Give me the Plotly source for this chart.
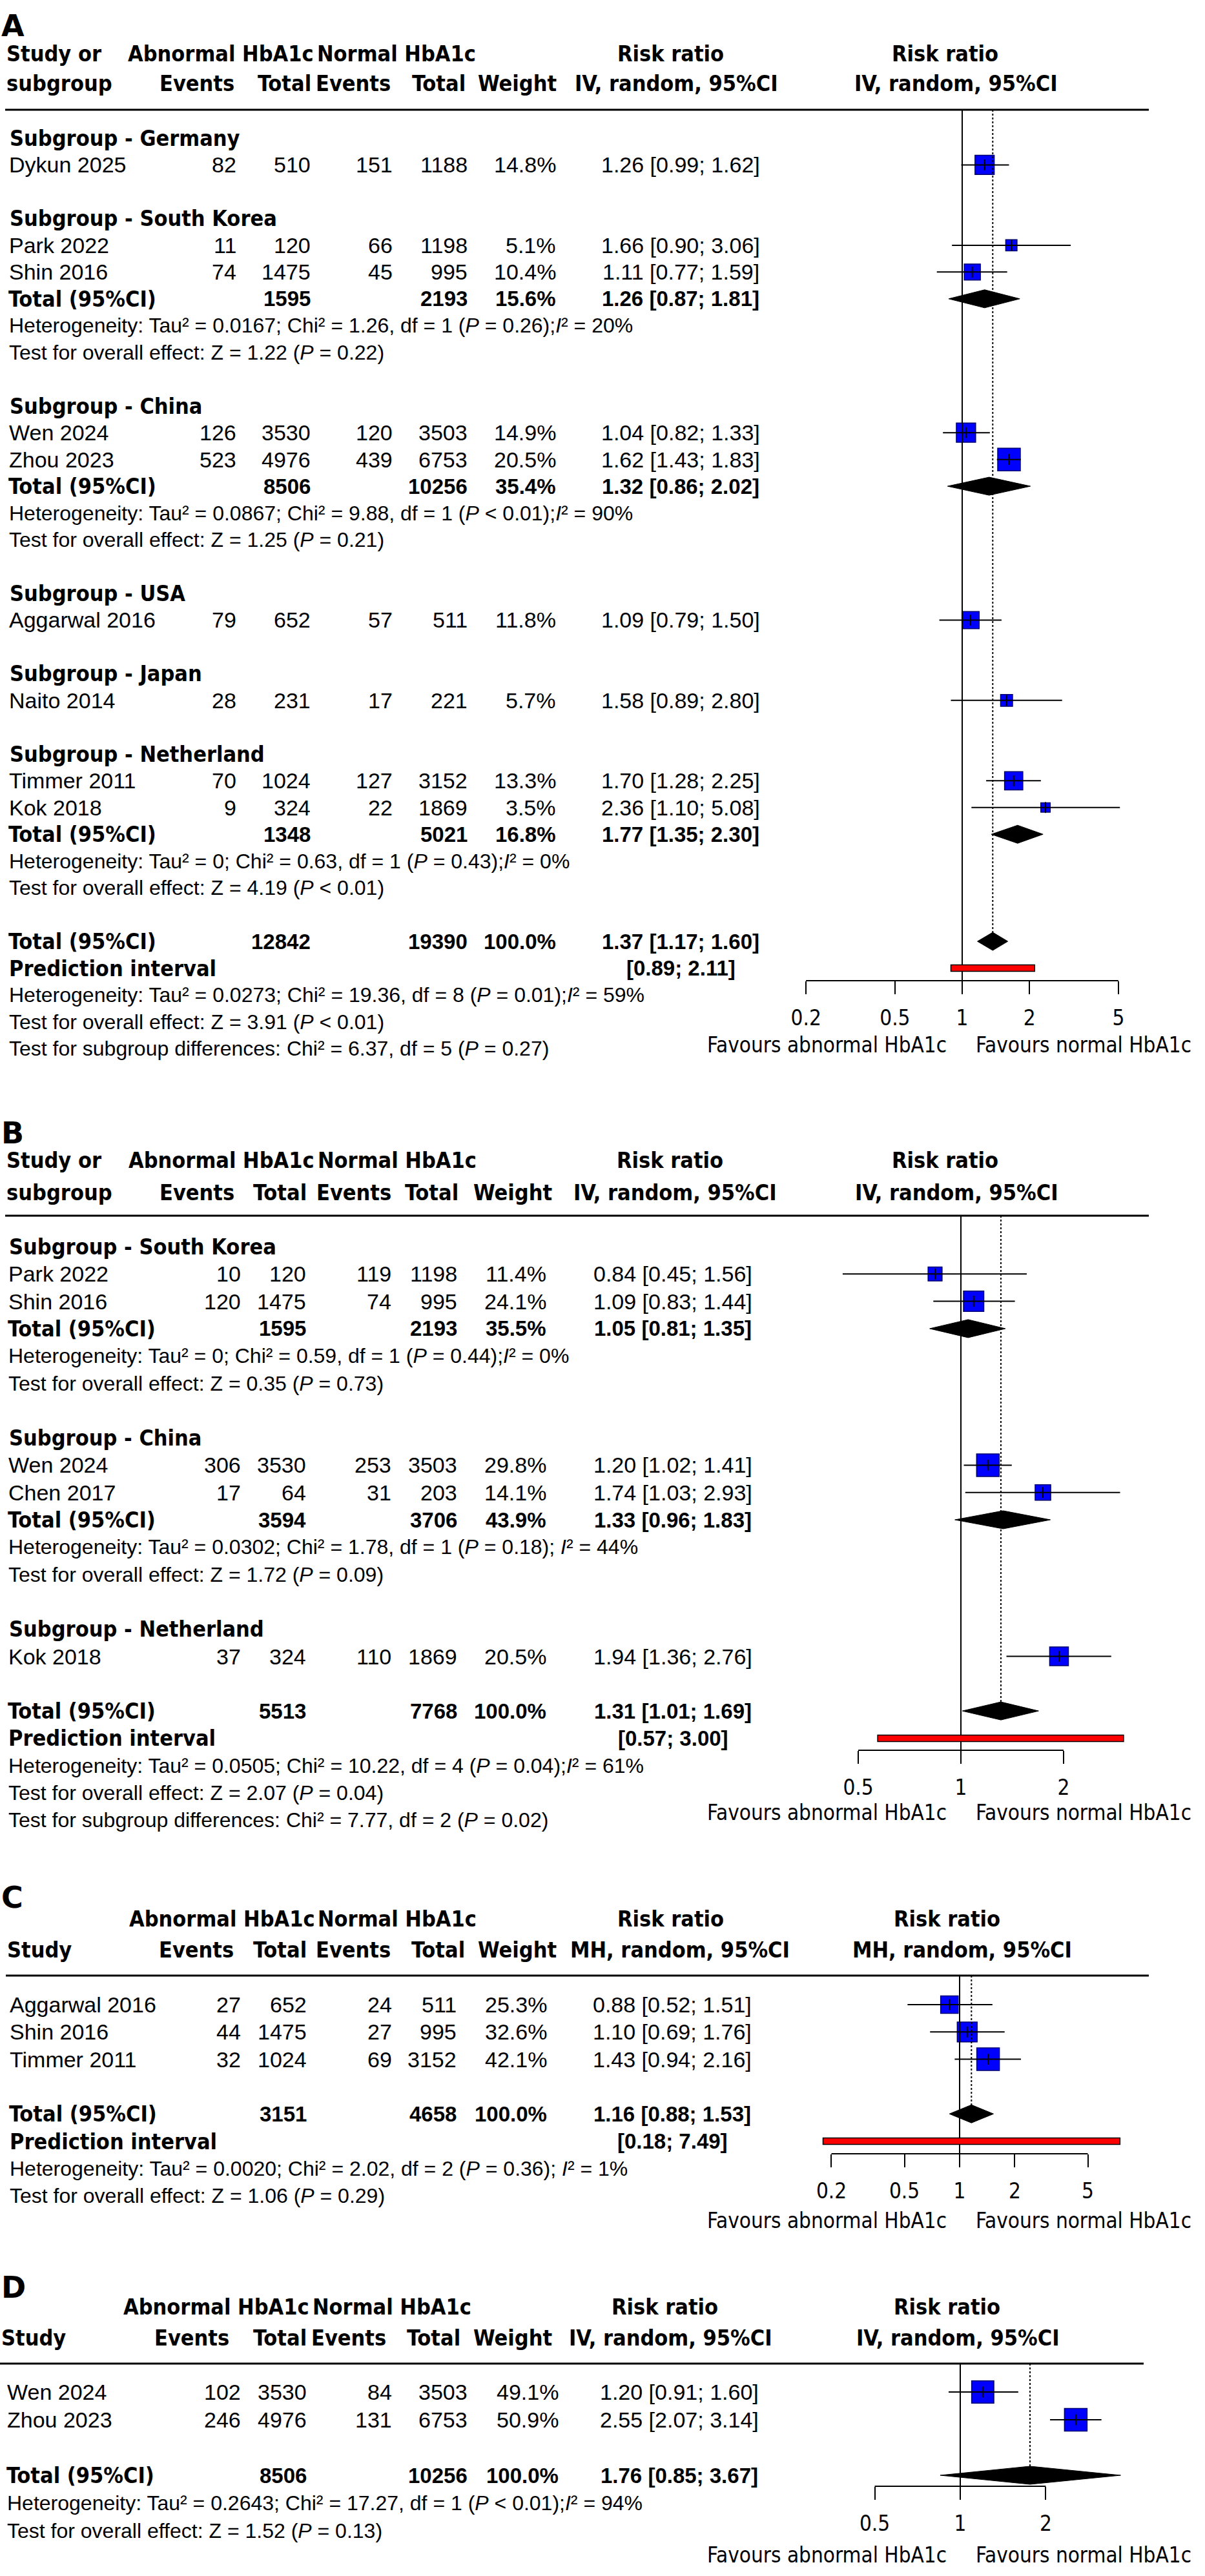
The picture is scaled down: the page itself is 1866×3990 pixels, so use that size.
import math
import plotly.graph_objects as go

W, H = 1866, 3990

# ======================= DATA =======================
# ---- Panel A ----
A_groups = ["Germany", "South Korea", "China", "USA", "Japan", "Netherland"]
A_study = ["Dykun 2025", "Park 2022", "Shin 2016", "Wen 2024", "Zhou 2023",
           "Aggarwal 2016", "Naito 2014", "Timmer 2011", "Kok 2018"]
A_group = ["Germany", "South Korea", "South Korea", "China", "China",
           "USA", "Japan", "Netherland", "Netherland"]
A_ev_abn = [82, 11, 74, 126, 523, 79, 28, 70, 9]
A_tot_abn = [510, 120, 1475, 3530, 4976, 652, 231, 1024, 324]
A_ev_nor = [151, 66, 45, 120, 439, 57, 17, 127, 22]
A_tot_nor = [1188, 1198, 995, 3503, 6753, 511, 221, 3152, 1869]
A_weight = [14.8, 5.1, 10.4, 14.9, 20.5, 11.8, 5.7, 13.3, 3.5]
A_rr = [1.26, 1.66, 1.11, 1.04, 1.62, 1.09, 1.58, 1.70, 2.36]
A_lo = [0.99, 0.90, 0.77, 0.82, 1.43, 0.79, 0.89, 1.28, 1.10]
A_hi = [1.62, 3.06, 1.59, 1.33, 1.83, 1.50, 2.80, 2.25, 5.08]
A_sub_names = ["South Korea", "China", "Netherland"]
A_sub_tot_abn = [1595, 8506, 1348]
A_sub_tot_nor = [2193, 10256, 5021]
A_sub_weight = [15.6, 35.4, 16.8]
A_sub_rr = [1.26, 1.32, 1.77]
A_sub_lo = [0.87, 0.86, 1.35]
A_sub_hi = [1.81, 2.02, 2.30]
A_sub_tau = ["0.0167", "0.0867", "0"]
A_sub_chi = ["1.26", "9.88", "0.63"]
A_sub_df = [1, 1, 1]
A_sub_phet = ["= 0.26", "< 0.01", "= 0.43"]
A_sub_i2 = [20, 90, 0]
A_sub_z = ["1.22", "1.25", "4.19"]
A_sub_pz = ["= 0.22", "= 0.21", "< 0.01"]
A_total = [12842, 19390, 100.0]
A_pooled = [1.37, 1.17, 1.60]
A_pi = [0.89, 2.11]
A_het = ["0.0273", "19.36", 8, "= 0.01", 59]
A_test = ["3.91", "< 0.01"]
A_diff = ["6.37", 5, "= 0.27"]
A_ticks = [0.2, 0.5, 1, 2, 5]

# ---- Panel B ----
B_groups = ["South Korea", "China", "Netherland"]
B_study = ["Park 2022", "Shin 2016", "Wen 2024", "Chen 2017", "Kok 2018"]
B_group = ["South Korea", "South Korea", "China", "China", "Netherland"]
B_ev_abn = [10, 120, 306, 17, 37]
B_tot_abn = [120, 1475, 3530, 64, 324]
B_ev_nor = [119, 74, 253, 31, 110]
B_tot_nor = [1198, 995, 3503, 203, 1869]
B_weight = [11.4, 24.1, 29.8, 14.1, 20.5]
B_rr = [0.84, 1.09, 1.20, 1.74, 1.94]
B_lo = [0.45, 0.83, 1.02, 1.03, 1.36]
B_hi = [1.56, 1.44, 1.41, 2.93, 2.76]
B_sub_names = ["South Korea", "China"]
B_sub_tot_abn = [1595, 3594]
B_sub_tot_nor = [2193, 3706]
B_sub_weight = [35.5, 43.9]
B_sub_rr = [1.05, 1.33]
B_sub_lo = [0.81, 0.96]
B_sub_hi = [1.35, 1.83]
B_sub_tau = ["0", "0.0302"]
B_sub_chi = ["0.59", "1.78"]
B_sub_df = [1, 1]
B_sub_phet = ["= 0.44", "= 0.18"]
B_sub_i2 = [0, 44]
B_sub_z = ["0.35", "1.72"]
B_sub_pz = ["= 0.73", "= 0.09"]
B_total = [5513, 7768, 100.0]
B_pooled = [1.31, 1.01, 1.69]
B_pi = [0.57, 3.00]
B_het = ["0.0505", "10.22", 4, "= 0.04", 61]
B_test = ["2.07", "= 0.04"]
B_diff = ["7.77", 2, "= 0.02"]
B_ticks = [0.5, 1, 2]

# ---- Panel C ----
C_study = ["Aggarwal 2016", "Shin 2016", "Timmer 2011"]
C_ev_abn = [27, 44, 32]
C_tot_abn = [652, 1475, 1024]
C_ev_nor = [24, 27, 69]
C_tot_nor = [511, 995, 3152]
C_weight = [25.3, 32.6, 42.1]
C_rr = [0.88, 1.10, 1.43]
C_lo = [0.52, 0.69, 0.94]
C_hi = [1.51, 1.76, 2.16]
C_total = [3151, 4658, 100.0]
C_pooled = [1.16, 0.88, 1.53]
C_pi = [0.18, 7.49]
C_het = ["0.0020", "2.02", 2, "= 0.36", 1]
C_test = ["1.06", "= 0.29"]
C_ticks = [0.2, 0.5, 1, 2, 5]

# ---- Panel D ----
D_study = ["Wen 2024", "Zhou 2023"]
D_ev_abn = [102, 246]
D_tot_abn = [3530, 4976]
D_ev_nor = [84, 131]
D_tot_nor = [3503, 6753]
D_weight = [49.1, 50.9]
D_rr = [1.20, 2.55]
D_lo = [0.91, 2.07]
D_hi = [1.60, 3.14]
D_total = [8506, 10256, 100.0]
D_pooled = [1.76, 0.85, 3.67]
D_het = ["0.2643", "17.27", 1, "< 0.01", 94]
D_test = ["1.52", "= 0.13"]
D_ticks = [0.5, 1, 2]

# ======================= STYLE / LAYOUT =======================
REG = "Liberation Sans, Arial, sans-serif"
HB = "DejaVu Sans Condensed, DejaVu Sans, sans-serif"
TF = "DejaVu Sans Condensed, DejaVu Sans, sans-serif"
S_REG, S_HB, S_NUM, S_TICK, S_STAT = 34, 34, 33, 33, 32
BLUE = "rgb(0,0,255)"

panels = [
    dict(name="A", groups=A_groups, study=A_study, group=A_group, ev_abn=A_ev_abn, tot_abn=A_tot_abn,
         ev_nor=A_ev_nor, tot_nor=A_tot_nor, weight=A_weight, rr=A_rr, lo=A_lo, hi=A_hi,
         sub_names=A_sub_names, sub_tot_abn=A_sub_tot_abn, sub_tot_nor=A_sub_tot_nor,
         sub_weight=A_sub_weight, sub_rr=A_sub_rr, sub_lo=A_sub_lo, sub_hi=A_sub_hi,
         sub_tau=A_sub_tau, sub_chi=A_sub_chi, sub_df=A_sub_df, sub_phet=A_sub_phet,
         sub_i2=A_sub_i2, sub_z=A_sub_z, sub_pz=A_sub_pz, total=A_total, pooled=A_pooled,
         pi=A_pi, het=A_het, test=A_test, diff=A_diff, ticks=A_ticks, method="IV",
         sub_space=[False, False, False], het_space=False,
         L=dict(letter=40, h1=83, h2=129, rule=170, rule_x=(8, 1779), y0=214, dy=41.47,
                axis=1519, fav=1618, x1=1490, dec=346, study_hdr=("Study or", "subgroup"), sx=8,
                lab=12, ev1=368, tot1=483, ev2=610, tot2=726, wt=863, ci=1054,
                hev1=365, htot1=484, hev2=607, htot2=723, hwt=864, habn=342, hnor=614,
                hrr=1038, hmeth=1047, rrr=1463, rmeth=1480)),
    dict(name="B", groups=B_groups, study=B_study, group=B_group, ev_abn=B_ev_abn, tot_abn=B_tot_abn,
         ev_nor=B_ev_nor, tot_nor=B_tot_nor, weight=B_weight, rr=B_rr, lo=B_lo, hi=B_hi,
         sub_names=B_sub_names, sub_tot_abn=B_sub_tot_abn, sub_tot_nor=B_sub_tot_nor,
         sub_weight=B_sub_weight, sub_rr=B_sub_rr, sub_lo=B_sub_lo, sub_hi=B_sub_hi,
         sub_tau=B_sub_tau, sub_chi=B_sub_chi, sub_df=B_sub_df, sub_phet=B_sub_phet,
         sub_i2=B_sub_i2, sub_z=B_sub_z, sub_pz=B_sub_pz, total=B_total, pooled=B_pooled,
         pi=B_pi, het=B_het, test=B_test, diff=B_diff, ticks=B_ticks, method="IV",
         sub_space=[False, True], het_space=False,
         L=dict(letter=1755, h1=1797, h2=1847, rule=1883, rule_x=(8, 1779), y0=1931, dy=42.3,
                axis=2711, fav=2807, x1=1488, dec=528, study_hdr=("Study or", "subgroup"), sx=8,
                lab=11, ev1=375, tot1=476, ev2=608, tot2=710, wt=848, ci=1042,
                hev1=365, htot1=477, hev2=608, htot2=712, hwt=857, habn=343, hnor=615,
                hrr=1037, hmeth=1045, rrr=1463, rmeth=1481)),
    dict(name="C", groups=None, study=C_study, ev_abn=C_ev_abn, tot_abn=C_tot_abn,
         ev_nor=C_ev_nor, tot_nor=C_tot_nor, weight=C_weight, rr=C_rr, lo=C_lo, hi=C_hi,
         total=C_total, pooled=C_pooled, pi=C_pi, het=C_het, test=C_test, diff=None,
         ticks=C_ticks, method="MH", het_space=True,
         L=dict(letter=2939, h1=2972, h2=3020, rule=3060, rule_x=(9, 1779), y0=3105, dy=42.3,
                axis=3336, fav=3439, x1=1486, dec=284, study_hdr=(None, "Study"), sx=9,
                lab=13, ev1=375, tot1=477, ev2=609, tot2=709, wt=849, ci=1041,
                hev1=364, htot1=477, hev2=607, htot2=722, hwt=864, habn=344, hnor=615,
                hrr=1038, hmeth=1053, rrr=1466, rmeth=1490)),
    dict(name="D", groups=None, study=D_study, ev_abn=D_ev_abn, tot_abn=D_tot_abn,
         ev_nor=D_ev_nor, tot_nor=D_tot_nor, weight=D_weight, rr=D_rr, lo=D_lo, hi=D_hi,
         total=D_total, pooled=D_pooled, pi=None, het=D_het, test=D_test, diff=None,
         ticks=D_ticks, method="IV", het_space=False,
         L=dict(letter=3543, h1=3573, h2=3621, rule=3661, rule_x=(0, 1771), y0=3705, dy=43,
                axis=3851, fav=3957, x1=1487, dec=440, study_hdr=(None, "Study"), sx=0,
                lab=9, ev1=375, tot1=477, ev2=609, tot2=726, wt=867, ci=1052,
                hev1=357, htot1=477, hev2=600, htot2=715, hwt=857, habn=335, hnor=607,
                hrr=1029, hmeth=1038, rrr=1466, rmeth=1483)),
]

fig = go.Figure()
ann = []
shapes = []


def T(x, y, s, anchor="left", font=REG, size=S_REG):
    ann.append(dict(x=x / W, y=1 - y / H, xref="paper", yref="paper", text=s, showarrow=False,
                    xanchor=anchor, yanchor="middle", align=anchor if anchor != "center" else "center",
                    font=dict(family=font, size=size, color="black")))


def it(s):
    return f'<span style="font-style:italic;font-size:{S_STAT}px">{s}</span>'


def ci_txt(r, l, h):
    return f"{r:.2f} [{l:.2f}; {h:.2f}]"


def het_txt(tau, chi, df, p, i2, space):
    sp = " " if space else ""
    return (f"Heterogeneity: Tau\u00b2 = {tau}; Chi\u00b2 = {chi}, df = {df} "
            f"({it('P')} {p});{sp}{it('I')}\u00b2 = {i2}%")


def test_txt(z, p):
    return f"Test for overall effect: Z = {z} ({it('P')} {p})"


def build_rows(P):
    rows = []
    if P["groups"]:
        for g in P["groups"]:
            rows.append(("group", g))
            for i, gg in enumerate(P["group"]):
                if gg == g:
                    rows.append(("study", i))
            if g in P["sub_names"]:
                j = P["sub_names"].index(g)
                rows += [("subtotal", j), ("subhet", j), ("subtest", j)]
            rows.append(("blank", None))
    else:
        for i in range(len(P["study"])):
            rows.append(("study", i))
        rows.append(("blank", None))
    rows.append(("total", None))
    if P["pi"]:
        rows.append(("pi", None))
    rows.append(("het", None))
    rows.append(("test", None))
    if P["diff"]:
        rows.append(("diff", None))
    return rows


DH = 14  # diamond half height (px)

for k, P in enumerate(panels, start=1):
    L = P["L"]
    xa = "x" if k == 1 else f"x{k}"
    ya = "y" if k == 1 else f"y{k}"
    xname = "xaxis" if k == 1 else f"xaxis{k}"
    yname = "yaxis" if k == 1 else f"yaxis{k}"

    # ---------- headers ----------
    T(0, L["letter"], f"<b>{P['name']}</b>", font="DejaVu Sans, sans-serif", size=46)
    s1, s2 = L["study_hdr"]
    if s1:
        T(L["sx"], L["h1"], f"<b>{s1}</b>", font=HB, size=S_HB)
    T(L["sx"], L["h2"], f"<b>{s2}</b>", font=HB, size=S_HB)
    T(L["habn"], L["h1"], "<b>Abnormal HbA1c</b>", "center", HB, S_HB)
    T(L["hnor"], L["h1"], "<b>Normal HbA1c</b>", "center", HB, S_HB)
    T(L["hrr"], L["h1"], "<b>Risk ratio</b>", "center", HB, S_HB)
    T(L["rrr"], L["h1"], "<b>Risk ratio</b>", "center", HB, S_HB)
    T(L["hev1"], L["h2"], "<b>Events</b>", "right", HB, S_HB)
    T(L["htot1"], L["h2"], "<b>Total</b>", "right", HB, S_HB)
    T(L["hev2"], L["h2"], "<b>Events</b>", "right", HB, S_HB)
    T(L["htot2"], L["h2"], "<b>Total</b>", "right", HB, S_HB)
    T(L["hwt"], L["h2"], "<b>Weight</b>", "right", HB, S_HB)
    meth = f"<b>{P['method']}, random, 95%CI</b>"
    T(L["hmeth"], L["h2"], meth, "center", HB, S_HB)
    T(L["rmeth"], L["h2"], meth, "center", HB, S_HB)
    shapes.append(dict(type="line", xref="paper", yref="paper", x0=L["rule_x"][0] / W, x1=L["rule_x"][1] / W,
                       y0=1 - L["rule"] / H, y1=1 - L["rule"] / H, line=dict(color="black", width=3)))

    # ---------- rows ----------
    rows = build_rows(P)
    st_y, sub_y = {}, {}
    tot_y = pi_y = None
    for r, (kind, v) in enumerate(rows):
        y = L["y0"] + r * L["dy"]
        if kind == "group":
            T(L["lab"] + 1, y, f"<b>Subgroup - {v}</b>", font=HB, size=S_HB)
        elif kind == "study":
            i = v
            st_y[i] = y
            T(L["lab"], y, P["study"][i])
            T(L["ev1"], y, str(P["ev_abn"][i]), "right")
            T(L["tot1"], y, str(P["tot_abn"][i]), "right")
            T(L["ev2"], y, str(P["ev_nor"][i]), "right")
            T(L["tot2"], y, str(P["tot_nor"][i]), "right")
            T(L["wt"], y, f"{P['weight'][i]:.1f}%", "right")
            T(L["ci"], y, ci_txt(P["rr"][i], P["lo"][i], P["hi"][i]), "center")
        elif kind == "subtotal":
            j = v
            sub_y[j] = y
            T(L["lab"] - 1, y, "<b>Total (95%CI)</b>", font=HB, size=S_HB)
            T(L["tot1"], y, f"<b>{P['sub_tot_abn'][j]}</b>", "right", REG, S_NUM)
            T(L["tot2"], y, f"<b>{P['sub_tot_nor'][j]}</b>", "right", REG, S_NUM)
            T(L["wt"], y, f"<b>{P['sub_weight'][j]:.1f}%</b>", "right", REG, S_NUM)
            T(L["ci"], y, f"<b>{ci_txt(P['sub_rr'][j], P['sub_lo'][j], P['sub_hi'][j])}</b>", "center", REG, S_NUM)
        elif kind == "subhet":
            j = v
            T(L["lab"], y, het_txt(P["sub_tau"][j], P["sub_chi"][j], P["sub_df"][j], P["sub_phet"][j],
                                   P["sub_i2"][j], P["sub_space"][j]), size=S_STAT)
        elif kind == "subtest":
            j = v
            T(L["lab"], y, test_txt(P["sub_z"][j], P["sub_pz"][j]), size=S_STAT)
        elif kind == "total":
            tot_y = y
            T(L["lab"] - 1, y, "<b>Total (95%CI)</b>", font=HB, size=S_HB)
            T(L["tot1"], y, f"<b>{P['total'][0]}</b>", "right", REG, S_NUM)
            T(L["tot2"], y, f"<b>{P['total'][1]}</b>", "right", REG, S_NUM)
            T(L["wt"], y, f"<b>{P['total'][2]:.1f}%</b>", "right", REG, S_NUM)
            T(L["ci"], y, f"<b>{ci_txt(*P['pooled'])}</b>", "center", REG, S_NUM)
        elif kind == "pi":
            pi_y = y
            T(L["lab"], y, "<b>Prediction interval</b>", font=HB, size=S_HB)
            T(L["ci"], y, f"<b>[{P['pi'][0]:.2f}; {P['pi'][1]:.2f}]</b>", "center", REG, S_NUM)
        elif kind == "het":
            T(L["lab"], y, het_txt(*P["het"], P["het_space"]), size=S_STAT)
        elif kind == "test":
            T(L["lab"], y, test_txt(*P["test"]), size=S_STAT)
        elif kind == "diff":
            c, d, p = P["diff"]
            T(L["lab"], y, f"Test for subgroup differences: Chi\u00b2 = {c}, df = {d} ({it('P')} {p})",
              size=S_STAT)

    # favours labels
    T(1468, L["fav"], "Favours abnormal HbA1c", "right", TF, S_TICK)
    T(1509, L["fav"], "Favours normal HbA1c", "left", TF, S_TICK)

    # ---------- plot ----------
    idx = sorted(st_y)
    ys = [st_y[i] for i in idx]
    rr = [P["rr"][i] for i in idx]
    wmax = max(P["weight"])
    sizes = [35 * math.sqrt(P["weight"][i] / wmax) for i in idx]
    fig.add_trace(go.Scatter(x=rr, y=ys, mode="markers", xaxis=xa, yaxis=ya, hoverinfo="skip",
                             opacity=1,
                             marker=dict(symbol="square", size=sizes, color=BLUE, opacity=1,
                                         line=dict(color="#00006E", width=1.5))))
    cx, cy = [], []
    for i in idx:
        cx += [P["lo"][i], P["hi"][i], None]
        cy += [st_y[i], st_y[i], None]
    fig.add_trace(go.Scatter(x=cx, y=cy, mode="lines", xaxis=xa, yaxis=ya, hoverinfo="skip",
                             line=dict(color="black", width=2)))
    fig.add_trace(go.Scatter(x=rr, y=ys, mode="markers", xaxis=xa, yaxis=ya, hoverinfo="skip",
                             marker=dict(symbol="line-ns", size=12, color="black",
                                         line=dict(color="black", width=2))))

    diamonds = []
    if P["groups"]:
        for j, yy in sub_y.items():
            diamonds.append((P["sub_rr"][j], P["sub_lo"][j], P["sub_hi"][j], yy))
    diamonds.append((P["pooled"][0], P["pooled"][1], P["pooled"][2], tot_y))
    for (e, lo, hi, yy) in diamonds:
        fig.add_trace(go.Scatter(x=[lo, e, hi, e, lo], y=[yy, yy - DH, yy, yy + DH, yy], mode="lines",
                                 fill="toself", fillcolor="black", xaxis=xa, yaxis=ya, hoverinfo="skip",
                                 line=dict(color="black", width=1)))

    # reference lines
    shapes.append(dict(type="line", xref=xa, yref=f"{ya} domain", x0=1, x1=1, y0=0, y1=1,
                       line=dict(color="black", width=2)))
    shapes.append(dict(type="line", xref=xa, yref=ya, x0=P["pooled"][0], x1=P["pooled"][0],
                       y0=L["rule"], y1=tot_y - DH, line=dict(color="black", width=2, dash="dot")))
    shapes.append(dict(type="line", xref=xa, yref=f"{ya} domain", x0=P["ticks"][0], x1=P["ticks"][-1],
                       y0=0, y1=0, line=dict(color="black", width=2)))
    if P["pi"]:
        shapes.append(dict(type="rect", xref=xa, yref=ya, x0=P["pi"][0], x1=P["pi"][1],
                           y0=pi_y - 5, y1=pi_y + 5, fillcolor="#FF0000", opacity=1,
                           line=dict(color="black", width=1.5)))

    Lpx, Rpx = 1150, 1866
    fig.layout[xname] = dict(type="log", domain=[Lpx / W, Rpx / W],
                             range=[(Lpx - L["x1"]) / L["dec"], (Rpx - L["x1"]) / L["dec"]],
                             anchor=ya, showgrid=False, zeroline=False, showline=False,
                             ticks="outside", ticklen=20, tickwidth=2, tickcolor="black",
                             tickvals=P["ticks"], ticktext=[f"{t:g}" for t in P["ticks"]],
                             tickfont=dict(family=TF, size=S_TICK, color="black"),
                             ticklabelstandoff=8, fixedrange=True)
    fig.layout[yname] = dict(domain=[1 - L["axis"] / H, 1 - L["rule"] / H],
                             range=[L["axis"], L["rule"]], anchor=xa, visible=False,
                             showgrid=False, zeroline=False, fixedrange=True)

fig.update_layout(width=W, height=H, margin=dict(l=0, r=0, t=0, b=0), showlegend=False,
                  paper_bgcolor="white", plot_bgcolor="rgba(0,0,0,0)",
                  annotations=ann, shapes=shapes)

fig.write_html("out.html", config={"displayModeBar": False},
               post_script="document.body.style.margin='0';document.body.style.padding='0';")
